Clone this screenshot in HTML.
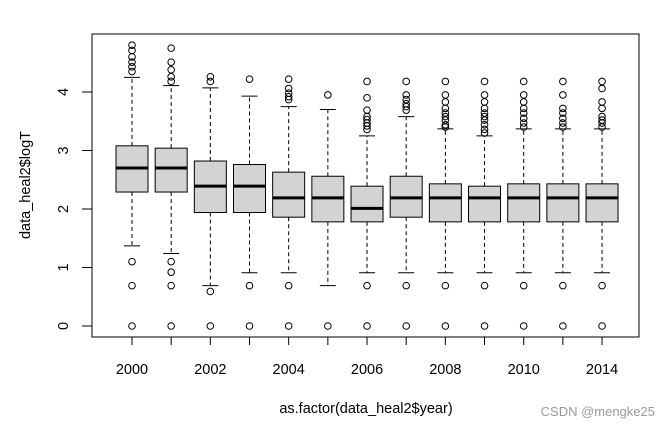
<!DOCTYPE html>
<html><head><meta charset="utf-8"><style>
html,body{margin:0;padding:0;background:#fff;width:668px;height:428px;overflow:hidden}
svg text{font-family:"Liberation Sans",Arial,sans-serif}
</style></head><body>
<svg id="chart" width="668" height="428" viewBox="0 0 668 428" xmlns="http://www.w3.org/2000/svg">
<rect x="0" y="0" width="668" height="428" fill="#fff"/>
<rect x="92" y="34" width="547" height="303" fill="none" stroke="#000" stroke-width="1"/>
<g id="boxes"></g>
<g id="axes"></g>
<text x="366" y="413" font-size="14.5" text-anchor="middle">as.factor(data_heal2$year)</text>
<text x="30" y="185" font-size="14.5" text-anchor="middle" transform="rotate(-90 30 185)">data_heal2$logT</text>
<text x="655" y="416" font-size="13" fill="#999" text-anchor="end">CSDN @mengke25</text>
</svg>
<script>
const categories = ["2000","2001","2002","2003","2004","2005","2006","2007","2008","2009","2010","2012","2014"];
const xTickLabels = ["2000","","2002","","2004","","2006","","2008","","2010","","2014"];
const q1 = [2.29,2.29,1.94,1.94,1.86,1.78,1.78,1.86,1.78,1.78,1.78,1.78,1.78];
const medians = [2.70,2.70,2.39,2.39,2.19,2.19,2.01,2.19,2.19,2.19,2.19,2.19,2.19];
const q3 = [3.08,3.04,2.82,2.76,2.63,2.56,2.39,2.56,2.43,2.39,2.43,2.43,2.43];
const whiskerLow = [1.37,1.24,0.69,0.91,0.91,0.69,0.91,0.91,0.91,0.91,0.91,0.91,0.91];
const whiskerHigh = [4.25,4.11,4.07,3.93,3.75,3.70,3.25,3.58,3.37,3.25,3.37,3.37,3.37];
const outliers = [
 [0,0.69,1.10,4.35,4.43,4.51,4.60,4.71,4.80],
 [0,0.69,0.92,1.10,4.18,4.26,4.38,4.51,4.75],
 [0,0.59,4.18,4.26],
 [0,0.69,4.22],
 [0,0.69,3.87,3.92,3.98,4.06,4.22],
 [0,3.95],
 [0,0.69,3.36,3.42,3.47,3.53,3.58,3.69,3.90,4.18],
 [0,0.69,3.69,3.75,3.80,3.87,3.95,4.18],
 [0,0.69,3.40,3.44,3.52,3.58,3.64,3.72,3.83,3.95,4.18],
 [0,0.69,3.30,3.36,3.44,3.52,3.58,3.64,3.72,3.83,3.95,4.18],
 [0,0.69,3.40,3.47,3.55,3.64,3.72,3.83,3.95,4.18],
 [0,0.69,3.40,3.47,3.55,3.64,3.72,3.95,4.18],
 [0,0.69,3.40,3.47,3.52,3.58,3.72,3.83,4.06,4.18]
];
const yTicks = [0,1,2,3,4];

const NS="http://www.w3.org/2000/svg";
function xPos(i){return 132+i*39.17;}
function yPos(v){return 326-v*58.5;}
function mk(tag,attrs,parent){const e=document.createElementNS(NS,tag);for(const k in attrs)e.setAttribute(k,attrs[k]);parent.appendChild(e);return e;}
const gb=document.getElementById('boxes'), ga=document.getElementById('axes');
const hw=16;
categories.forEach((c,i)=>{
 const x=xPos(i);
 const g=mk('g',{},gb);
 
 
 let l=mk('line',{x1:x,x2:x,y1:yPos(q3[i]),y2:yPos(whiskerHigh[i]),stroke:'#000','stroke-dasharray':'4,3'},g);
 
 
 l=mk('line',{x1:x,x2:x,y1:yPos(q1[i]),y2:yPos(whiskerLow[i]),stroke:'#000','stroke-dasharray':'4,3'},g);
 
 
 l=mk('line',{x1:x-8,x2:x+8,y1:yPos(whiskerHigh[i]),y2:yPos(whiskerHigh[i]),stroke:'#000'},g);
 
 
 l=mk('line',{x1:x-8,x2:x+8,y1:yPos(whiskerLow[i]),y2:yPos(whiskerLow[i]),stroke:'#000'},g);
 
 
 const r=mk('rect',{x:x-hw,y:yPos(q3[i]),width:2*hw,height:yPos(q1[i])-yPos(q3[i]),fill:'#d3d3d3',stroke:'#000'},g);
 
 
 l=mk('line',{x1:x-hw,x2:x+hw,y1:yPos(medians[i]),y2:yPos(medians[i]),stroke:'#000','stroke-width':3},g);
 
 
 outliers[i].forEach(v=>{
  const o=mk('circle',{cx:x,cy:yPos(v),r:3.3,fill:'none',stroke:'#000','stroke-width':1},g);
  
  
 });
 const t=mk('line',{x1:x,x2:x,y1:337,y2:345,stroke:'#000'},ga);
 
 
 if(xTickLabels[i]){
  const tx=mk('text',{x:x,y:374,'font-size':14.5,'text-anchor':'middle'},ga);
  tx.textContent=xTickLabels[i];
  
  
 }
});
yTicks.forEach(v=>{
 const y=yPos(v);
 const t=mk('line',{x1:82,x2:92,y1:y,y2:y,stroke:'#000'},ga);
 
 
 const tx=mk('text',{x:68,y:y,'font-size':14.5,'text-anchor':'middle',transform:'rotate(-90 68 '+y+')'},ga);
 tx.textContent=v;
 
 
});
</script>
</body></html>
